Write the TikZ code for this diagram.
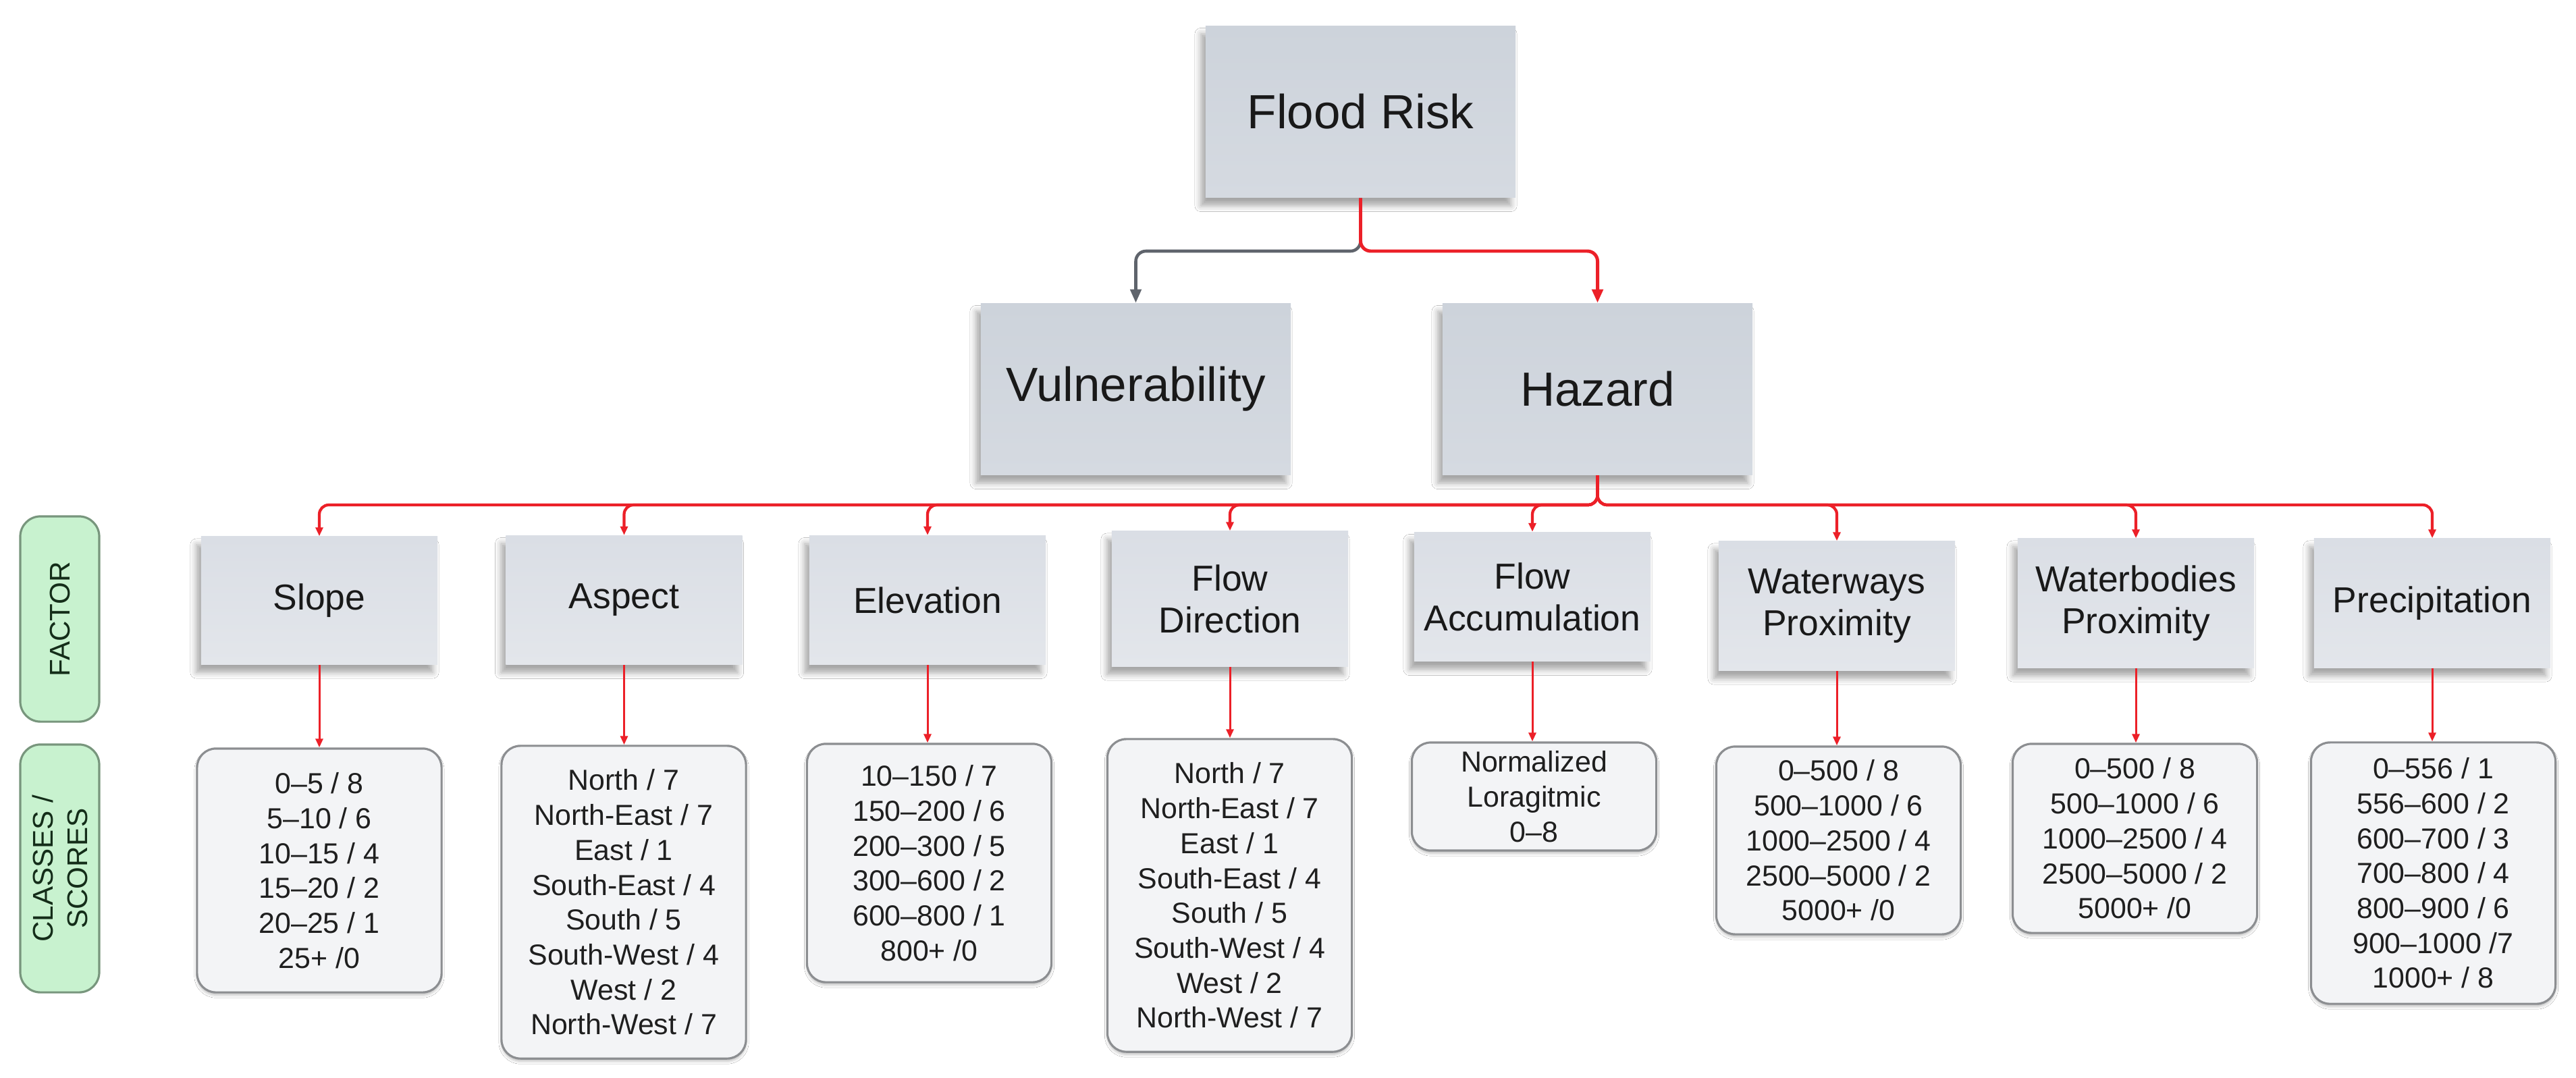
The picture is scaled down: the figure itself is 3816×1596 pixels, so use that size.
\documentclass[tikz,border=0pt]{standalone}
\usepackage{fontspec}
\setmainfont{Liberation Sans}
\usetikzlibrary{arrows.meta,shadows.blur}
\definecolor{topfillA}{RGB}{205,211,219}
\definecolor{topfillB}{RGB}{213,218,225}
\definecolor{facfillA}{RGB}{218,222,229}
\definecolor{facfillB}{RGB}{227,230,235}
\definecolor{clsfill}{RGB}{243,244,246}
\definecolor{clsdraw}{RGB}{140,142,145}
\definecolor{lblfill}{RGB}{200,242,207}
\definecolor{lbldraw}{RGB}{120,150,125}
\definecolor{lbltext}{RGB}{20,45,25}
\definecolor{linkred}{RGB}{236,32,40}
\definecolor{linkgray}{RGB}{95,100,108}
\begin{document}
\begin{tikzpicture}[x=0.01cm,y=-0.01cm,
  note/.style={inner sep=0pt, align=center, text=black!90,
    blur shadow={shadow xshift=-0.07cm, shadow yshift=-0.12cm, shadow blur radius=0.09cm, shadow opacity=35}},
  topnote/.style={note, top color=topfillA, bottom color=topfillB, minimum width=4.59cm, minimum height=2.54cm,
    font=\fontsize{20.2pt}{24pt}\selectfont},
  facnote/.style={note, top color=facfillA, bottom color=facfillB, minimum width=3.5cm, minimum height=1.91cm,
    font=\fontsize{15.2pt}{17.6pt}\selectfont},
  classbox/.style={draw=clsdraw, line width=0.9pt, fill=clsfill, rounded corners=0.28cm, minimum width=3.62cm,
    inner sep=0pt, align=center, text=black!88, font=\fontsize{12.2pt}{14.7pt}\selectfont,
    blur shadow={shadow xshift=0cm, shadow yshift=-0.04cm, shadow blur radius=0.04cm, shadow opacity=25}},
  lblbox/.style={draw=lbldraw, line width=0.9pt, fill=lblfill, rounded corners=0.3cm, rotate=90,
    minimum height=1.17cm, inner sep=0pt, align=center, text=lbltext, font=\fontsize{12pt}{14.5pt}\selectfont},
  redlink/.style={draw=linkred, line width=0.85pt, rounded corners=0.12cm, -{Triangle[length=0.13cm,width=0.11cm]}},
  bustop/.style={draw=linkred, line width=1.2pt, rounded corners=0.14cm, -{Triangle[length=0.13cm,width=0.11cm]}},
  redtop/.style={draw=linkred, line width=1.4pt, rounded corners=0.15cm, -{Triangle[length=0.2cm,width=0.16cm]}},
  graytop/.style={draw=linkgray, line width=1.3pt, rounded corners=0.15cm, -{Triangle[length=0.2cm,width=0.16cm]}}
]
\useasboundingbox[fill=white] (0,0) rectangle (3816,1596);

% top level
\node[topnote] (fr)  at (2015.5,165.5) {Flood Risk};
\node[topnote] (vul) at (1682.5,576.5) {Vulnerability};
\node[topnote] (haz) at (2366.5,576.5) {Hazard};

% labels
\node[lblbox, minimum width=3.04cm] (lblf) at (88.5,917) {FACTOR};
\node[lblbox, minimum width=3.67cm] (lblc) at (88.5,1286.5) {CLASSES /\\SCORES};

% factors
\node[facnote, minimum height=1.89cm] (slope) at (473,889.5) {Slope};
\node[facnote] (aspect) at (924.5,889) {Aspect};
\node[facnote] (elev) at (1374,889) {Elevation};
\node[facnote, minimum height=2.0cm] (fdir) at (1822,887) {Flow\\Direction};
\node[facnote] (facc) at (2270,884) {Flow\\Accumulation};
\node[facnote] (wway) at (2721,897.5) {Waterways\\Proximity};
\node[facnote] (wbod) at (3164,893.5) {Waterbodies\\Proximity};
\node[facnote] (prec) at (3603,893.5) {Precipitation};

% classes
\node[classbox, minimum height=3.61cm] (slopec) at (473,1289.5)
  {0–5 / 8\\5–10 / 6\\10–15 / 4\\15–20 / 2\\20–25 / 1\\25+ /0};
\node[classbox, minimum height=4.63cm] (aspectc) at (924,1336.5)
  {North / 7\\North-East / 7\\East / 1\\South-East / 4\\South / 5\\South-West / 4\\West / 2\\North-West / 7};
\node[classbox, minimum height=3.53cm] (elevc) at (1376.5,1278.5)
  {10–150 / 7\\150–200 / 6\\200–300 / 5\\300–600 / 2\\600–800 / 1\\800+ /0};
\node[classbox, minimum height=4.63cm] (fdirc) at (1821.5,1326.5)
  {North / 7\\North-East / 7\\East / 1\\South-East / 4\\South / 5\\South-West / 4\\West / 2\\North-West / 7};
\node[classbox, minimum height=1.6cm] (faccc) at (2272.5,1180)
  {Normalized\\Loragitmic\\0–8};
\node[classbox, minimum height=2.78cm] (wwayc) at (2723.5,1245)
  {0–500 / 8\\500–1000 / 6\\1000–2500 / 4\\2500–5000 / 2\\5000+ /0};
\node[classbox, minimum height=2.8cm] (wbodc) at (3162.5,1242)
  {0–500 / 8\\500–1000 / 6\\1000–2500 / 4\\2500–5000 / 2\\5000+ /0};
\node[classbox, minimum height=3.87cm] (precc) at (3604.5,1293.5)
  {0–556 / 1\\556–600 / 2\\600–700 / 3\\700–800 / 4\\800–900 / 6\\900–1000 /7\\1000+ / 8};

% top connectors
\coordinate (jtop) at (2015.5,372);
\draw[graytop] (fr.south) -- (jtop) -| (vul.north);
\draw[redtop] (fr.south) -- (jtop) -| (haz.north);

% hazard bus
\coordinate (bus) at (2368,748);
\foreach \f in {slope,aspect,elev,fdir,facc,wway,wbod,prec}{
  \draw[bustop] (haz.south) -- (haz.south |- bus) -| (\f.north);
}

% factor -> classes
\foreach \f in {slope,aspect,elev,fdir,facc,wway,wbod,prec}{
  \draw[redlink] (\f.south) -- (\f.south |- \f c.north);
}
\end{tikzpicture}
\end{document}
